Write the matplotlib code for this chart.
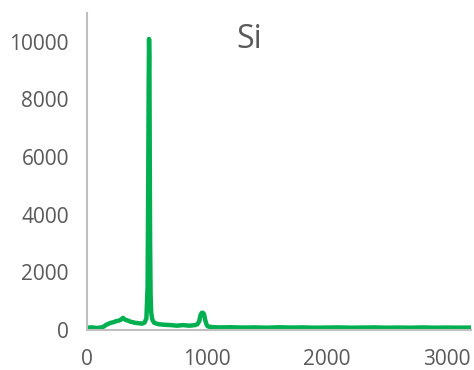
import matplotlib
matplotlib.use("Agg")
import matplotlib.pyplot as plt

raman_shift = [0, 40, 80, 120, 140, 160, 180, 200, 220, 240, 260, 280, 300, 320, 340,
               360, 380, 400, 420, 440, 460, 480, 495, 505, 510, 514, 517, 520, 523,
               526, 530, 535, 545, 560, 580, 600, 650, 700, 750, 800, 850, 880, 900,
               920, 935, 945, 955, 965, 975, 985, 995, 1005, 1020, 1050, 1100, 1200,
               1300, 1400, 1500, 1600, 1700, 1800, 1900, 2000, 2100, 2200, 2300, 2400,
               2500, 2600, 2700, 2800, 2900, 3000, 3100, 3200]
intensity = [80, 90, 70, 90, 120, 180, 220, 250, 270, 300, 320, 350, 420, 350, 330,
             290, 270, 250, 240, 230, 220, 260, 400, 1500, 5000, 8500, 10100, 9500, 6000,
             3000, 1200, 600, 350, 250, 220, 200, 180, 170, 150, 170, 150, 160, 170,
             200, 300, 500, 590, 600, 550, 350, 200, 130, 110, 100, 90, 95,
             85, 90, 80, 95, 85, 90, 80, 85, 90, 80, 85, 90,
             80, 85, 80, 90, 80, 85, 80, 85]

title_text = "Si"
x_ticks = [0, 1000, 2000, 3000]
y_ticks = [0, 2000, 4000, 6000, 8000, 10000]

plt.rcParams['font.family'] = ['Open Sans', 'DejaVu Sans']
fig = plt.figure(figsize=(4.74, 3.70), dpi=100)
ax = fig.add_axes([87/474, 1-330/370, 384/474, 317/370])
ax.plot(raman_shift, intensity, color="#00B050", lw=3.2, solid_joinstyle="round")
ax.set_xlim(0, 3200)
ax.set_ylim(0, 11000)
ax.set_xticks(x_ticks)
ax.set_yticks(y_ticks)
ax.tick_params(length=0, labelsize=15, labelcolor="#595959")
ax.tick_params(axis='y', pad=13)
ax.tick_params(axis='x', pad=14)
for s in ["top", "right"]:
    ax.spines[s].set_visible(False)
for s in ["left", "bottom"]:
    ax.spines[s].set_color("#BFBFBF")
    ax.spines[s].set_linewidth(1.5)
ax.set_zorder(1)
fig.text(249/474, 1-39/370, title_text, fontsize=23, color="#595959",
         ha="center", va="center")
fig.savefig("out.png", dpi=100)
